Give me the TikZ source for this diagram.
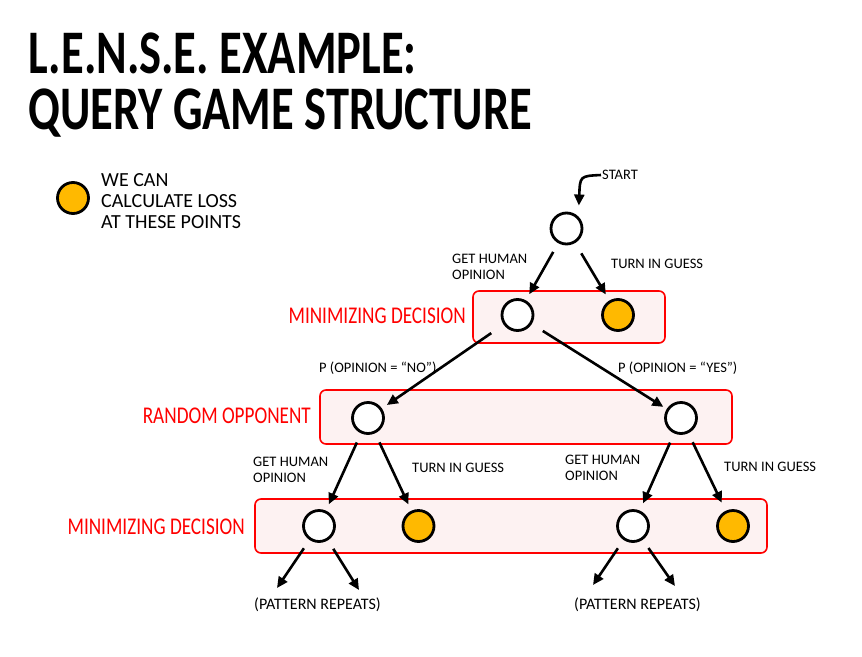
\documentclass[tikz,border=0pt]{standalone}
\usepackage{fontspec}
\setmainfont{Carlito}
\newfontfamily\narrowfont[FakeStretch=0.8]{Carlito}
\newfontfamily\titlefont[FakeStretch=0.75]{Carlito}
\usepackage{tikz}
\usetikzlibrary{arrows.meta}

\definecolor{lossorange}{RGB}{255,185,0}
\definecolor{bandred}{RGB}{255,0,0}
\definecolor{bandfill}{RGB}{253,242,242}

\begin{document}
\begin{tikzpicture}[
    x=1pt,y=-1pt,
    band/.style={draw=bandred,line width=1.6pt,rounded corners=6pt,fill=bandfill,inner sep=0pt},
    state/.style={circle,draw=black,line width=2.8pt,fill=white,minimum size=31pt,inner sep=0pt},
    scored/.style={state,fill=lossorange},
    lbl/.style={inner sep=0pt,anchor=north west,align=left,font=\fontsize{14.5}{16}\selectfont},
    level/.style={inner sep=0pt,anchor=north east,text=bandred,font=\narrowfont\fontsize{24}{26}\selectfont},
    arrow/.style={-{Triangle[length=11pt,width=10pt]},line width=2.6pt,shorten <=10pt,shorten >=7pt}
]
\useasboundingbox (0,0) rectangle (862,656);

% Title and legend
\node[inner sep=0pt,anchor=north west,align=left,font=\titlefont\bfseries\fontsize{62}{56}\selectfont] (title) at (28,33) {L.E.N.S.E. EXAMPLE:\\QUERY GAME STRUCTURE};
\node[scored] (legend) at (73,198) {};
\node[inner sep=0pt,anchor=north west,align=left,font=\fontsize{20}{21}\selectfont] (legendtext) at (101,173) {WE CAN\\CALCULATE LOSS\\AT THESE POINTS};

% Decision bands
\node[band,minimum width=192pt,minimum height=52pt] (band1) at (569,317) {};
\node[band,minimum width=412pt,minimum height=54pt] (band2) at (526,417) {};
\node[band,minimum width=512pt,minimum height=54pt] (band3) at (511,526) {};
\node[level] (min1) at (466,308) {MINIMIZING DECISION};
\node[level] (rand) at (311,408) {RANDOM OPPONENT};
\node[level] (min2) at (245,519) {MINIMIZING DECISION};

% Game tree
\node[lbl] (start) at (602,170) {START};
\node[state] (root) at (566.5,228.5) {};
\node[state] (ask1) at (517.5,315) {};
\node[scored] (guess1) at (618,315) {};
\node[state] (no) at (368,418) {};
\node[state] (yes) at (681,418) {};
\node[state] (askL) at (319,526) {};
\node[scored] (guessL) at (418.5,526) {};
\node[state] (askR) at (633,526) {};
\node[scored] (guessR) at (733,526) {};
\coordinate (repL1) at (277,588);
\coordinate (repL2) at (359,590);
\coordinate (repR1) at (593,585);
\coordinate (repR2) at (675,586);

\draw[arrow,shorten <=1pt,shorten >=11pt] (start.west) .. controls (580,176) .. (root.north east);
\draw[arrow] (root) -- (ask1);
\draw[arrow,shorten <=12pt] (root) -- (guess1);
\draw[arrow,shorten <=15pt,shorten >=6pt] (ask1) -- (no);
\draw[arrow,shorten <=13pt,shorten >=4pt] (ask1) -- (yes);
\draw[arrow] (no) -- (askL);
\draw[arrow] (no) -- (guessL);
\draw[arrow,shorten >=8pt] (yes) -- (askR);
\draw[arrow,shorten >=9pt] (yes) -- (guessR);
\draw[arrow,shorten >=0pt] (askL) -- (repL1);
\draw[arrow,shorten >=0pt] (askL) -- (repL2);
\draw[arrow,shorten >=0pt] (askR) -- (repR1);
\draw[arrow,shorten >=0pt] (askR) -- (repR2);

% Move labels
\node[lbl] (ask1text) at (452,254) {GET HUMAN\\OPINION};
\node[lbl] (guess1text) at (611,259) {TURN IN GUESS};
\node[lbl] (notext) at (319,362) {P (OPINION = ``NO'')};
\node[lbl] (yestext) at (618,362) {P (OPINION = ``YES'')};
\node[lbl] (askLtext) at (253,457) {GET HUMAN\\OPINION};
\node[lbl] (guessLtext) at (412,463) {TURN IN GUESS};
\node[lbl] (askRtext) at (565,455) {GET HUMAN\\OPINION};
\node[lbl] (guessRtext) at (724,462) {TURN IN GUESS};
\node[lbl,font=\fontsize{16}{18}\selectfont] (repL) at (254,598) {(PATTERN REPEATS)};
\node[lbl,font=\fontsize{16}{18}\selectfont] (repR) at (574,598) {(PATTERN REPEATS)};
\end{tikzpicture}
\end{document}
